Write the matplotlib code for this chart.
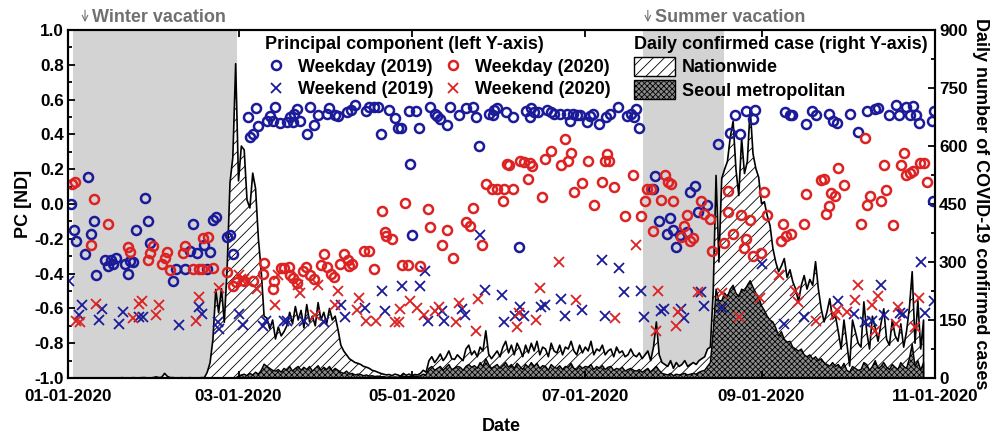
import matplotlib
matplotlib.use("Agg")
import matplotlib.pyplot as plt
import matplotlib.patches as mpatches
from matplotlib.ticker import MultipleLocator, FormatStrFormatter
import numpy as np

plt.rcParams['font.family'] = ['Liberation Sans', 'DejaVu Sans']
plt.rcParams['font.weight'] = 'bold'
plt.rcParams['axes.labelweight'] = 'bold'
plt.rcParams['hatch.linewidth'] = 0.6

# x axis is day of year 2020 (0 = Jan 1)
tick_days = [0, 60, 121, 182, 244, 305]
tick_labels = ['01-01-2020', '03-01-2020', '05-01-2020', '07-01-2020', '09-01-2020', '11-01-2020']
winter = (1.8, 59.6)
summer = (202.3, 230.8)

# daily confirmed cases, nationwide
nat = [0, 0, 0, 0, 0, 0, 0, 0, 0, 0,
       0, 0, 0, 0, 0, 0, 0, 0, 0, 1,
       0, 0, 0, 1, 0, 0, 1, 1, 0, 0,
       1, 3, 1, 2, 12, 4, 1, 1, 0, 0,
       1, 0, 0, 1, 0, 0, 0, 1, 1, 15,
       40, 100, 229, 169, 231, 144, 284, 505, 571, 813,
       510, 600, 590, 460, 440, 530, 490, 360, 275, 160,
       155, 127, 150, 101, 132, 109, 120, 135, 170, 140,
       185, 150, 175, 130, 190, 145, 160, 135, 195, 150,
       170, 140, 180, 150, 160, 125, 85, 70, 60, 50,
       45, 40, 38, 35, 30, 28, 25, 20, 18, 15,
       12, 10, 8, 9, 6, 10, 8, 5, 12, 7,
       10, 6, 9, 8, 12, 20, 15, 45, 55, 40,
       50, 62, 45, 55, 70, 50, 48, 60, 52, 45,
       75, 85, 60, 70, 55, 80, 70, 122, 62, 50,
       60, 70, 55, 80, 95, 65, 85, 60, 90, 75,
       55, 85, 65, 90, 70, 95, 60, 80, 75, 55,
       90, 70, 65, 85, 60, 80, 75, 95, 70, 60,
       85, 65, 80, 70, 95, 60, 75, 70, 85, 60,
       70, 75, 55, 80, 65, 70, 55, 60, 75, 60,
       55, 65, 50, 60, 70, 45, 80, 145, 60, 40,
       35, 30, 45, 25, 40, 30, 35, 45, 30, 35,
       40, 35, 45, 50, 55, 75, 80, 223, 524, 300,
       516, 540, 560, 623, 664, 540, 472, 620, 529, 560,
       698, 580, 542, 519, 451, 456, 420, 394, 335, 300,
       275, 290, 309, 260, 280, 249, 230, 197, 240, 265,
       230, 255, 240, 301, 230, 179, 145, 170, 205, 153,
       161, 120, 75, 150, 90, 31, 150, 120, 90, 80,
       197, 120, 75, 160, 130, 95, 140, 179, 100, 85,
       150, 110, 95, 140, 80, 120, 180, 275, 90, 200,
       75, 150]

# daily confirmed cases, Seoul metropolitan area
seoul = [0] * 60 + [
       5, 8, 10, 6, 12, 8, 15, 10, 20, 36,
       30, 25, 20, 18, 22, 15, 25, 20, 30, 18,
       25, 30, 20, 28, 22, 30, 18, 25, 32, 20,
       28, 22, 30, 18, 25, 20, 15, 12, 18, 10,
       12, 8, 10, 9, 6, 8, 5, 6, 4, 5,
       3, 4, 2, 3, 2, 3, 2, 4, 5, 3,
       4, 3, 5, 4, 6, 10, 8, 25, 30, 20,
       25, 30, 20, 28, 35, 22, 25, 30, 28, 20,
       30, 35, 28, 32, 25, 40, 30, 50, 35, 25,
       30, 35, 25, 32, 40, 28, 35, 25, 38, 30,
       22, 35, 28, 40, 30, 38, 25, 32, 30, 20,
       35, 28, 25, 32, 22, 30, 28, 38, 25, 22,
       32, 25, 30, 28, 35, 22, 30, 25, 32, 22,
       28, 30, 20, 25, 22, 28, 18, 22, 25, 20,
       18, 22, 15, 20, 25, 15, 22, 30, 20, 12,
       10, 8, 12, 6, 10, 8, 10, 12, 8, 10,
       12, 10, 15, 18, 20, 30, 40, 120, 230, 200,
       200, 220, 210, 230, 240, 220, 210, 230, 225, 240,
       252, 235, 220, 210, 187, 175, 160, 150, 145, 130,
       109, 120, 100, 93, 95, 80, 75, 70, 75, 60,
       55, 60, 49, 55, 45, 50, 40, 35, 31, 40,
       30, 35, 25, 38, 20, 15, 30, 25, 20, 22,
       40, 35, 20, 30, 45, 25, 30, 40, 28, 22,
       35, 28, 22, 40, 30, 25, 50, 88, 30, 45,
       20, 40]

# principal component, weekday 2019
wd19_day = [1, 2, 3, 6, 7, 8, 9, 10, 13, 14, 15, 16, 17, 20, 21, 22, 23, 24, 27, 28,
            29, 37, 38, 41, 43, 44, 45.5, 48, 49, 50, 51, 52, 56, 57, 58, 63.5, 64, 65, 66, 67,
            70, 71, 72, 73, 74.5, 77, 78, 79, 79.5, 80.5, 81.5, 84, 85, 86.5, 88, 91, 92, 94, 95,
            98, 99.5, 101, 105, 106, 107.6, 109, 110, 113, 115, 116, 117, 120, 120.5, 121, 122.5, 123.5, 127.5, 129, 130,
            131, 133.5, 134.5, 137.7, 140, 142.6, 143.7, 144.7, 148, 149.5, 150, 151, 154, 156.4, 158.8, 161.3, 162.4, 163, 164, 165.5,
            168.7, 169.8, 171, 173, 175.4, 176.5, 177.5, 179, 180, 182.5, 183.5, 184.6, 186.7, 189.2, 190.6, 193.4, 196.6, 198, 199, 199.8,
            200.8, 205.8, 206.5, 207.9, 210.7, 211.8, 212.8, 214, 215.3, 217.8, 218.8, 220.6, 221.7, 224.9, 228.7, 233, 234.7, 236.5, 238.6, 241,
            241.8, 252.4, 254, 254.8, 259.8, 261.6, 263, 267.6, 269, 270.7, 275, 277.8, 281, 283.8, 285, 289, 291.2, 292.3, 294.8, 296.2,
            297.2, 298.3, 299.3, 304, 304.2, 304.7]
wd19_pc = [0.0, -0.15, -0.21, -0.29, 0.155, -0.17, -0.10, -0.41, -0.32, -0.355, -0.32, -0.345, -0.31, -0.345, -0.40, -0.33, -0.335, -0.15, 0.035, -0.10,
           -0.225, -0.44, -0.375, -0.375, -0.27, -0.115, -0.28, -0.235, -0.375, -0.275, -0.09, -0.075, -0.19, -0.18, -0.29, 0.50, 0.385, 0.40, 0.55, 0.45,
           0.48, 0.505, 0.475, 0.56, 0.465, 0.47, 0.50, 0.47, 0.52, 0.545, 0.48, 0.40, 0.56, 0.455, 0.51, 0.515, 0.55, 0.51, 0.505,
           0.53, 0.54, 0.57, 0.535, 0.56, 0.555, 0.555, 0.40, 0.54, 0.495, 0.44, 0.44, 0.535, 0.23, -0.18, 0.535, 0.44, 0.56, 0.52, 0.505,
           0.49, 0.455, 0.56, 0.51, 0.55, 0.555, 0.50, 0.335, 0.515, 0.51, 0.54, 0.55, 0.53, 0.50, -0.245, 0.535, 0.50, 0.55, 0.53, 0.53,
           0.54, 0.53, 0.515, 0.515, 0.52, 0.48, 0.515, 0.51, 0.51, 0.47, 0.505, 0.52, 0.46, 0.50, 0.52, 0.555, 0.505, 0.515, 0.50, 0.545,
           0.435, 0.085, 0.16, -0.10, -0.17, -0.08, -0.15, -0.245, -0.18, -0.16, 0.07, 0.105, -0.045, -0.005, 0.345, 0.41, 0.51, 0.40, 0.535, 0.49,
           0.54, 0.53, 0.51, 0.51, 0.46, 0.535, 0.51, 0.52, 0.475, 0.465, 0.52, 0.415, 0.535, 0.545, 0.55, 0.51, 0.57, 0.51, 0.555, 0.51,
           0.565, 0.51, 0.465, 0.48, 0.02, 0.535]

# principal component, weekday 2020
wd20_day = [1.4, 2.5, 8, 9, 14, 21, 22, 28, 29, 30, 33, 34, 35, 36, 40.6, 41, 44, 46, 47.3, 47.6,
            49.4, 51, 56, 58, 59, 62, 65, 68.5, 69, 72, 72.5, 75, 76, 77.7, 78, 79, 80.5, 82.6, 83.7, 85,
            86.5, 89, 90, 91, 92.5, 93.5, 95.6, 97, 98.5, 99, 100, 104, 106, 107.6, 110.5, 111.5, 112, 114, 117.5, 118.6,
            119.6, 124, 126.7, 127.5, 131.5, 133.5, 135.6, 140, 141.5, 142.6, 145.8, 147, 149.3, 151, 153.5, 153, 154.6, 155.3, 156.7, 159.2,
            160.6, 161.7, 162.4, 163.4, 166.6, 167.7, 169.8, 173.3, 174.7, 175.8, 176.8, 177.9, 180.7, 182.8, 185, 187.8, 188.9, 189.6, 190.3, 192,
            196, 198.7, 201.5, 203, 203.7, 205, 205.8, 208.6, 210, 211, 212, 212.8, 215.7, 216.7, 217.8, 218.8, 220, 222.7, 223.8, 225.9,
            226.6, 230.8, 232.3, 232.3, 234, 236.8, 237.9, 238.6, 240, 241, 243.9, 245, 246, 251, 251.7, 252.7, 254.5, 259, 259.8, 265,
            266, 266.8, 267.9, 268.6, 269.7, 271, 273, 279, 280.3, 281, 282, 286, 287.2, 287.7, 290.2, 293, 294, 294.8, 296.2, 297.2,
            299.7, 301, 302.2]
wd20_pc = [0.115, 0.125, -0.235, 0.03, -0.115, -0.245, -0.275, -0.32, -0.28, -0.24, -0.345, -0.31, -0.275, -0.38, -0.28, -0.24, -0.375, -0.375, -0.375, -0.195,
           -0.19, -0.365, -0.39, -0.47, -0.45, -0.44, -0.44, -0.40, -0.34, -0.49, -0.445, -0.37, -0.365, -0.36, -0.41, -0.425, -0.455, -0.385, -0.36, -0.41,
           -0.43, -0.35, -0.29, -0.36, -0.40, -0.42, -0.345, -0.29, -0.32, -0.355, -0.345, -0.27, -0.27, -0.375, -0.04, -0.16, -0.185, -0.20, -0.35, 0.005,
           -0.35, -0.355, -0.03, -0.13, -0.235, -0.15, -0.31, -0.105, -0.125, -0.025, -0.235, 0.115, 0.085, 0.085, 0.085, 0.02, 0.23, 0.225, 0.085, 0.245,
           0.24, 0.145, 0.235, 0.22, 0.04, 0.26, 0.305, 0.225, 0.375, 0.25, 0.295, 0.07, 0.12, 0.245, -0.005, 0.125, 0.245, 0.29, 0.25, 0.10,
           -0.07, 0.165, -0.07, 0.015, 0.085, 0.085, -0.155, 0.025, 0.165, 0.125, 0.115, 0.015, -0.19, -0.125, -0.065, -0.215, -0.195, 0.015, -0.06, -0.085,
           -0.27, -0.225, 0.075, -0.045, -0.175, -0.065, -0.25, -0.20, -0.09, -0.30, -0.28, 0.07, -0.065, -0.21, -0.115, -0.185, -0.17, -0.115, 0.06, 0.14,
           0.145, -0.055, -0.01, 0.065, 0.045, 0.21, 0.11, -0.115, 0.38, -0.005, 0.045, 0.02, 0.225, 0.08, -0.12, 0.225, 0.295, 0.165, 0.18, 0.19,
           0.235, 0.235, 0.125]

# principal component, weekend 2019
we19_day = [0.3, 4, 5, 11, 12, 18, 19.5, 25, 26.5, 39, 46, 47, 52.7, 53.3, 60, 61.5, 68.5, 69.5, 76,
            77, 83, 90, 96, 97.5, 104.5, 110.5, 111.5, 117.5, 124, 125.7, 126.7, 131.5, 132.4, 138.7, 139.7, 145, 146.8, 152.8, 153.5,
            157.4, 159.2, 160.6, 166.3, 167.7, 173.3, 174.7, 180.7, 187.8, 188.9, 194, 195.6, 201.5, 202.6, 208.6, 209.7, 215.7, 216.7, 222.7, 223.8,
            230, 244, 252, 259, 271, 276.7, 280.3, 283, 286, 287.2, 292.6, 293.6, 300, 301.4, 304.5]
we19_pc = [-0.44, -0.64, -0.58, -0.665, -0.605, -0.69, -0.62, -0.65, -0.65, -0.695, -0.59, -0.63, -0.68, -0.72, -0.63, -0.695, -0.70, -0.67, -0.67,
           -0.67, -0.67, -0.68, -0.58, -0.65, -0.60, -0.50, -0.615, -0.47, -0.47, -0.385, -0.67, -0.615, -0.67, -0.605, -0.64, -0.18, -0.495, -0.52, -0.68,
           -0.645, -0.59, -0.645, -0.59, -0.58, -0.545, -0.645, -0.61, -0.32, -0.645, -0.37, -0.505, -0.50, -0.65, -0.615, -0.605, -0.605, -0.655, -0.505, -0.585,
           -0.60, -0.345, -0.69, -0.65, -0.56, -0.63, -0.68, -0.67, -0.465, -0.64, -0.625, -0.63, -0.335, -0.625, -0.56]

# principal component, weekend 2020
we20_day = [3, 4.3, 10, 23, 25, 26, 31, 32, 45, 46, 53, 60, 61, 62, 63.5, 66.4, 72.7, 74, 81, 81.6,
            87, 88, 94, 95, 101.7, 102.4, 105, 108.4, 115, 116.5, 116.8, 120.4, 122.8, 125.3, 129.2, 130.6, 136.6, 137.7, 143.7, 144.4,
            157.8, 158.5, 164.5, 165.9, 172.6, 178.6, 192.4, 199.8, 206.9, 207.6, 214, 214.6, 221.7, 230, 236, 243.6, 250.3, 255.9, 257, 263,
            270, 270.7, 273.9, 277, 277.8, 282.7, 283.8, 284.8, 291.2, 291.9, 297.9, 299.3]
we20_pc = [-0.67, -0.68, -0.575, -0.655, -0.575, -0.555, -0.64, -0.58, -0.67, -0.535, -0.48, -0.41, -0.43, -0.43, -0.445, -0.49, -0.58, -0.41, -0.465, -0.51,
           -0.64, -0.465, -0.58, -0.50, -0.61, -0.54, -0.67, -0.675, -0.68, -0.68, -0.605, -0.56, -0.60, -0.64, -0.615, -0.59, -0.68, -0.57, -0.73, -0.545,
           -0.705, -0.625, -0.665, -0.48, -0.335, -0.55, -0.655, -0.235, -0.73, -0.50, -0.70, -0.62, -0.505, -0.51, -0.65, -0.54, -0.41, -0.50, -0.565, -0.67,
           -0.64, -0.61, -0.62, -0.55, -0.465, -0.58, -0.73, -0.53, -0.69, -0.59, -0.705, -0.54]

BLUE = '#1b1b9a'
RED = '#dc2222'
FS = 13


def main():
    fig = plt.figure(figsize=(9.98, 4.36), dpi=100)
    ax = fig.add_axes([0.0681, 0.133, 0.8687, 0.798])
    ax2 = ax.twinx()

    # vacation periods and case counts on the right axis
    ax2.axvspan(*winter, color='#d3d3d3', lw=0)
    ax2.axvspan(*summer, color='#d3d3d3', lw=0)
    days = np.arange(len(nat))
    ax2.fill_between(days, nat, facecolor='white', edgecolor='black', hatch='///', lw=0)
    ax2.fill_between(days, seoul, facecolor='#8a8a8a', edgecolor='black', hatch='xxxxxx', lw=0)
    ax2.plot(np.append(days, days[-1]), nat + [0], 'k-', lw=1.2)
    ax2.plot(np.append(days, days[-1]), seoul + [0], 'k-', lw=1.0)
    ax2.set_ylim(0, 900)
    ax2.yaxis.set_major_locator(MultipleLocator(150))
    ax2.yaxis.set_minor_locator(MultipleLocator(75))
    ax2.set_ylabel('Daily number of COVID-19 confirmed cases', fontsize=FS, rotation=270, labelpad=15)

    # principal components on the left axis, drawn over the fills
    ax.set_zorder(ax2.get_zorder() + 1)
    ax.patch.set_visible(False)
    ms = dict(ls='none', ms=6.5, mew=1.8, mfc='none')
    mx = dict(ls='none', ms=7.5, mew=1.3)
    ax.plot(wd19_day, wd19_pc, 'o', color=BLUE, label='Weekday (2019)', **ms)
    ax.plot(we19_day, we19_pc, 'x', color=BLUE, label='Weekend (2019)', **mx)
    ax.plot(wd20_day, wd20_pc, 'o', color=RED, label='Weekday (2020)', **ms)
    ax.plot(we20_day, we20_pc, 'x', color=RED, label='Weekend (2020)', **mx)

    ax.set_xlim(0, 305)
    ax.set_ylim(-1.0, 1.0)
    ax.yaxis.set_major_locator(MultipleLocator(0.2))
    ax.yaxis.set_minor_locator(MultipleLocator(0.1))
    ax.yaxis.set_major_formatter(FormatStrFormatter('%.1f'))
    ax.set_xticks(tick_days)
    ax.set_xticklabels(tick_labels)
    ax.set_ylabel('PC [ND]', fontsize=FS, labelpad=2)
    ax.set_xlabel('Date', fontsize=FS, labelpad=10)

    for a in (ax, ax2):
        for s in a.spines.values():
            s.set_linewidth(1.5)
        a.tick_params(which='both', direction='in', labelsize=12.3, width=1.3)
        a.tick_params(which='major', length=5)
        a.tick_params(which='minor', length=3)
    ax.tick_params(axis='x', top=True, pad=8)
    ax.tick_params(axis='y', pad=3)
    ax2.tick_params(axis='y', pad=3)

    # vacation labels above the frame
    for start, name in ((6.0, 'Winter vacation'), (204.0, 'Summer vacation')):
        ax.annotate('', xy=(start, 1.03), xytext=(start, 1.13), annotation_clip=False,
                    arrowprops=dict(arrowstyle='->', color='#707070', lw=0.8))
        ax.text(start + 2.5, 1.075, name, color='#707070', fontsize=FS, va='center', ha='left', clip_on=False)

    leg1 = ax.legend(ncol=2, loc='upper left', bbox_to_anchor=(0.213, 1.02), frameon=False,
                     title='Principal component (left Y-axis)', fontsize=FS, title_fontsize=FS,
                     numpoints=1, handlelength=1.2, handletextpad=0.6, columnspacing=0.5, labelspacing=0.32,
                     borderpad=0.2, alignment='left')
    leg1.get_title().set_fontweight('bold')
    ax.add_artist(leg1)

    handles = [mpatches.Patch(facecolor='white', edgecolor='black', hatch='///', lw=1),
               mpatches.Patch(facecolor='#8a8a8a', edgecolor='black', hatch='xxxxxx', lw=1)]
    leg2 = ax.legend(handles, ['Nationwide', 'Seoul metropolitan'], loc='upper left',
                     bbox_to_anchor=(0.638, 1.02), frameon=False,
                     title='Daily confirmed case (right Y-axis)', fontsize=FS, title_fontsize=FS,
                     handlelength=2.3, handleheight=1.25, handletextpad=0.35, labelspacing=0.22,
                     borderpad=0.2, alignment='left')
    leg2.get_title().set_fontweight('bold')

    fig.savefig('out.png', dpi=100)


if __name__ == '__main__':
    main()
